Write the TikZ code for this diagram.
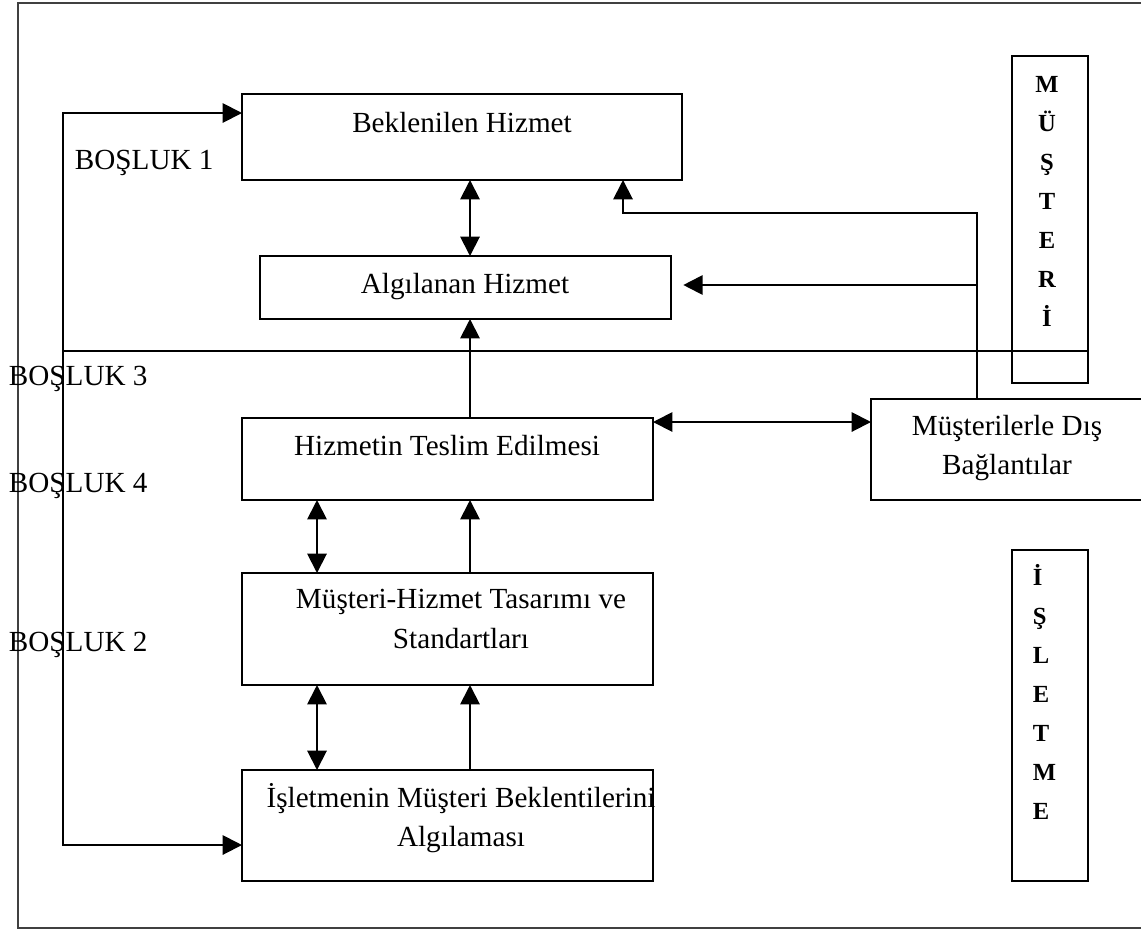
\documentclass[tikz,border=0pt]{standalone}
\usepackage{fontspec}
\setmainfont{Liberation Serif}
\usetikzlibrary{arrows.meta, positioning, fit}
\tikzset{
  >={Triangle[length=11pt,width=11pt]},
  every picture/.style={line width=1.1pt},
  frame/.style={draw=black!75},
  box/.style={draw, inner sep=0pt, outer sep=0pt},
  boxtext/.style={font=\fontsize{16.6}{22.5}\selectfont, inner sep=0pt, align=center},
  gaplabel/.style={font=\fontsize{16.6}{20}\selectfont, inner sep=0pt, anchor=base west},
  sidetext/.style={font=\fontsize{14}{22.2}\selectfont\bfseries, inner sep=0pt},
  arrow/.style={->},
  dblarrow/.style={<->}
}

\begin{document}
\begin{tikzpicture}[x=0.02cm, y=-0.02cm]
    \useasboundingbox (0,0) rectangle (1141,930);
    \clip (0,0) rectangle (1141,930);
    \draw[frame] (1160,3) -- (18,3) -- (18,928) -- (1160,928);

    % boxes
    \node[box, fit={(242,94) (682,180)}] (bek) {};
    \node[box, fit={(260,256) (671,319)}] (alg) {};
    \node[box, fit={(242,418) (653,500)}] (teslim) {};
    \node[box, fit={(242,573) (653,685)}] (tasarim) {};
    \node[box, fit={(242,770) (653,881)}] (isl) {};
    \node[box, fit={(871,399) (1143,500)}] (dis) {};
    \node[box, fit={(1012,56) (1088,383)}] (musteri) {};
    \node[box, fit={(1012,550) (1088,881)}] (isletme) {};

    \node[boxtext, anchor=base] (bekT) at (462,132) {Beklenilen Hizmet};
    \node[boxtext, anchor=base] (algT) at (465,293) {Algılanan Hizmet};
    \node[boxtext, anchor=base] (teslimT) at (447,455) {Hizmetin Teslim Edilmesi};
    \node[boxtext] (tasarimT) at (461,619) {Müşteri-Hizmet Tasarımı ve\\Standartları};
    \node[boxtext] (islT) at (461,818) {İşletmenin Müşteri Beklentilerini\\Algılaması};
    \node[boxtext] (disT) at (1007,448) {Müşterilerle Dış\\Bağlantılar};

    \node[sidetext, align=center] (musteriT) at (1047,201.5) {M\\Ü\\Ş\\T\\E\\R\\İ};
    \node[sidetext, align=left, anchor=west] (isletmeT) at (1032,692) {İ\\Ş\\L\\E\\T\\M\\E};

    \node[gaplabel] (gap1) at (74,169) {BOŞLUK 1};
    \node[gaplabel] (gap3) at (8,385) {BOŞLUK 3};
    \node[gaplabel] (gap4) at (8,492) {BOŞLUK 4};
    \node[gaplabel] (gap2) at (8,651) {BOŞLUK 2};

    % connectors
    \coordinate (loopTop) at (63,113);
    \coordinate (loopBot) at (63,845);
    \coordinate (line3) at (63,351);
    \coordinate (midx) at (470,0);
    \coordinate (leftx) at (317,0);
    \coordinate (feed) at (977,213);
    \coordinate (bekIn) at (623,213);
    \coordinate (algIn) at (977,285);
    \coordinate (link) at (760,422);

    \draw[dblarrow] (bek.west |- loopTop) -- (loopTop) -- (loopBot) -- (isl.west |- loopBot);
    \draw (line3) -- (musteri.east |- line3);
    \draw[dblarrow] (bek.south -| midx) -- (alg.north -| midx);
    \draw[arrow] (teslim.north -| midx) -- (alg.south -| midx);
    \draw[arrow] (tasarim.north -| midx) -- (teslim.south -| midx);
    \draw[arrow] (isl.north -| midx) -- (tasarim.south -| midx);
    \draw[dblarrow] (teslim.south -| leftx) -- (tasarim.north -| leftx);
    \draw[dblarrow] (tasarim.south -| leftx) -- (isl.north -| leftx);
    \draw[arrow] (dis.north -| feed) -- (feed) -- (bekIn) -- (bek.south -| bekIn);
    \draw[arrow, shorten >=7pt] (algIn) -- (alg.east |- algIn);
    \draw[dblarrow] (teslim.east |- link) -- (dis.west |- link);
\end{tikzpicture}
\end{document}
